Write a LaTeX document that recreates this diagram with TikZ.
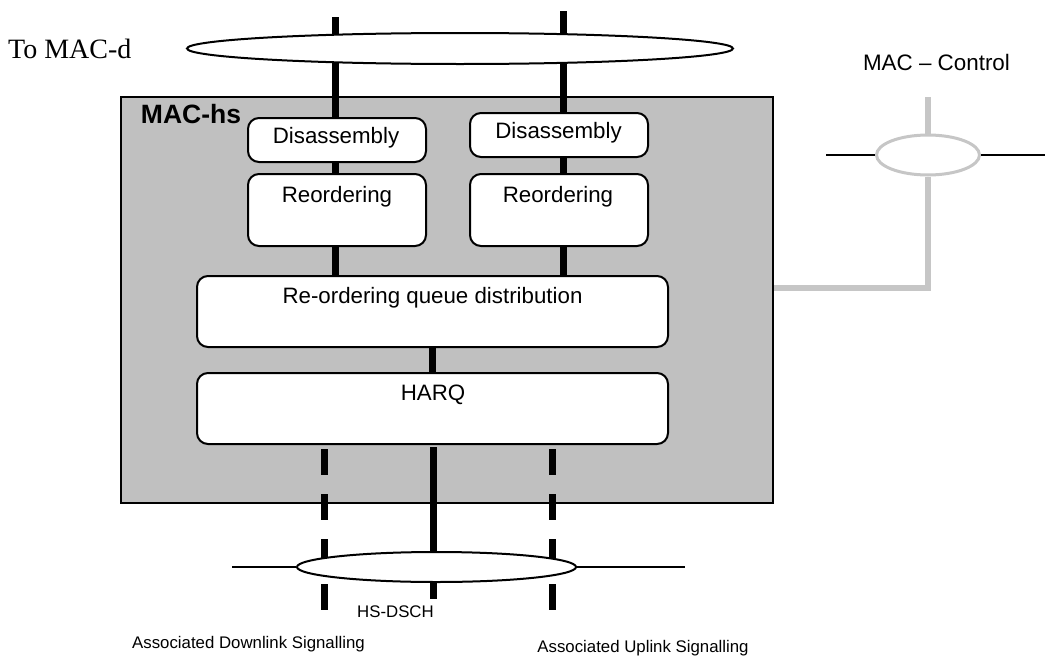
\documentclass[tikz,border=0pt]{standalone}
\usepackage{fontspec}
\setmainfont{Liberation Sans}
\newfontfamily\timesf{Liberation Serif}
\usetikzlibrary{shapes.geometric}
\pgfdeclarelayer{back}
\pgfdeclarelayer{mid}
\pgfsetlayers{back,mid,main}
\definecolor{boxgray}{RGB}{192,192,192}
\definecolor{ctrlgray}{RGB}{198,198,198}
\begin{document}
\begin{tikzpicture}[x=1pt,y=-1pt,
  blk/.style={draw=black, line width=2pt, fill=white, rounded corners=11pt, inner sep=0pt},
  lbl/.style={inner sep=0pt, font=\fontsize{22.3}{26}\selectfont},
  smalllbl/.style={inner sep=0pt, font=\fontsize{16.8}{20}\selectfont},
  chan/.style={line width=7pt},
  dashchan/.style={line width=7pt, dash pattern=on 26pt off 19pt},
  thinline/.style={line width=2.6pt},
  oval/.style={ellipse, draw=black, line width=2pt, fill=white, inner sep=0pt},
  ctrlline/.style={draw=ctrlgray, line width=6pt}
]
\useasboundingbox (0,0) rectangle (1045,656);

% MAC-hs entity
\begin{pgfonlayer}{back}
\node[draw=black, line width=2pt, fill=boxgray, minimum width=652pt, minimum height=406pt, inner sep=0pt] (mac) at (447,300) {};
\end{pgfonlayer}
\node[inner sep=0pt, font=\bfseries\fontsize{26.5}{30}\selectfont] (machs) at (191,114) {MAC-hs};

% boxes
\node[blk, minimum width=178pt, minimum height=44pt] (dis1) at (337,140) {};
\node[blk, minimum width=178pt, minimum height=44pt] (dis2) at (559,135) {};
\node[blk, minimum width=178pt, minimum height=72pt] (reo1) at (337,210) {};
\node[blk, minimum width=178pt, minimum height=72pt] (reo2) at (559,210) {};
\node[blk, minimum width=471pt, minimum height=71pt] (rq) at (432.5,311.5) {};
\node[blk, minimum width=471pt, minimum height=71pt] (harq) at (432.5,408.5) {};

\node[lbl] (tdis1) at (336,138) {Disassembly};
\node[lbl] (tdis2) at (558.5,133) {Disassembly};
\node[lbl] (treo1) at (337,197) {Reordering};
\node[lbl] (treo2) at (558,197) {Reordering};
\node[lbl] (trq) at (432.5,298) {Re-ordering queue distribution};
\node[lbl] (tharq) at (433,395) {HARQ};

% top ellipse (To MAC-d)
\node[oval, minimum width=546pt, minimum height=31pt] (topov) at (460,48.5) {};
\node[inner sep=0pt, font=\timesf\fontsize{28}{32}\selectfont, anchor=west] (tomacd) at (8,49) {To MAC-d};

\coordinate (ltop) at (335,17);
\coordinate (rtop) at (563,11);
\begin{pgfonlayer}{mid}
\draw[chan] (ltop) -- (dis1.north -| ltop);
\draw[chan] (dis1.south -| ltop) -- (reo1.north -| ltop);
\draw[chan] (reo1.south -| ltop) -- (rq.north -| ltop);
\draw[chan] (rtop) -- (dis2.north -| rtop);
\draw[chan] (dis2.south -| rtop) -- (reo2.north -| rtop);
\draw[chan] (reo2.south -| rtop) -- (rq.north -| rtop);
\draw[chan] (rq.south) -- (harq.north);
\end{pgfonlayer}

% bottom: HS-DSCH
\node[oval, minimum width=279pt, minimum height=30pt] (botov) at (436.5,567) {};
\coordinate (hsend) at (433,599);
\coordinate (dlend) at (324,610);
\coordinate (ulend) at (552,610);
\coordinate (hstop) at (433,447);
\coordinate (dltop) at (324,449);
\coordinate (ultop) at (552,449);
\coordinate (bl) at (232,567);
\coordinate (br) at (685,567);
\begin{pgfonlayer}{mid}
\draw[chan] (hstop) -- (hsend);
\draw[dashchan] (dltop) -- (dlend);
\draw[dashchan] (ultop) -- (ulend);
\end{pgfonlayer}
\draw[thinline] (bl) -- (botov.west);
\draw[thinline] (botov.east) -- (br);

\node[smalllbl] (hsdsch) at (395.5,612) {HS-DSCH};
\node[smalllbl] (dlsig) at (248.5,644) {Associated Downlink Signalling};
\node[smalllbl] (ulsig) at (643,648) {Associated Uplink Signalling};

% MAC - Control
\node[inner sep=0pt, font=\fontsize{22.4}{26}\selectfont] (macc) at (936.5,62) {MAC -- Control};
\node[ellipse, draw=ctrlgray, line width=3pt, fill=white, inner sep=0pt, minimum width=103pt, minimum height=40pt] (ctrl) at (928,155) {};
\coordinate (cl) at (826,155);
\coordinate (cr) at (1045,155);
\coordinate (ctop) at (928,97);
\coordinate (ccorner) at (928,288);
\draw[thinline] (cl) -- (ctrl.west);
\draw[thinline] (ctrl.east) -- (cr);
\begin{pgfonlayer}{mid}
\draw[ctrlline] (ctop) -- (ctrl.north);
\draw[ctrlline] (ctrl.south) -- (ccorner) -- (mac.east |- ccorner);
\end{pgfonlayer}
\end{tikzpicture}
\end{document}
